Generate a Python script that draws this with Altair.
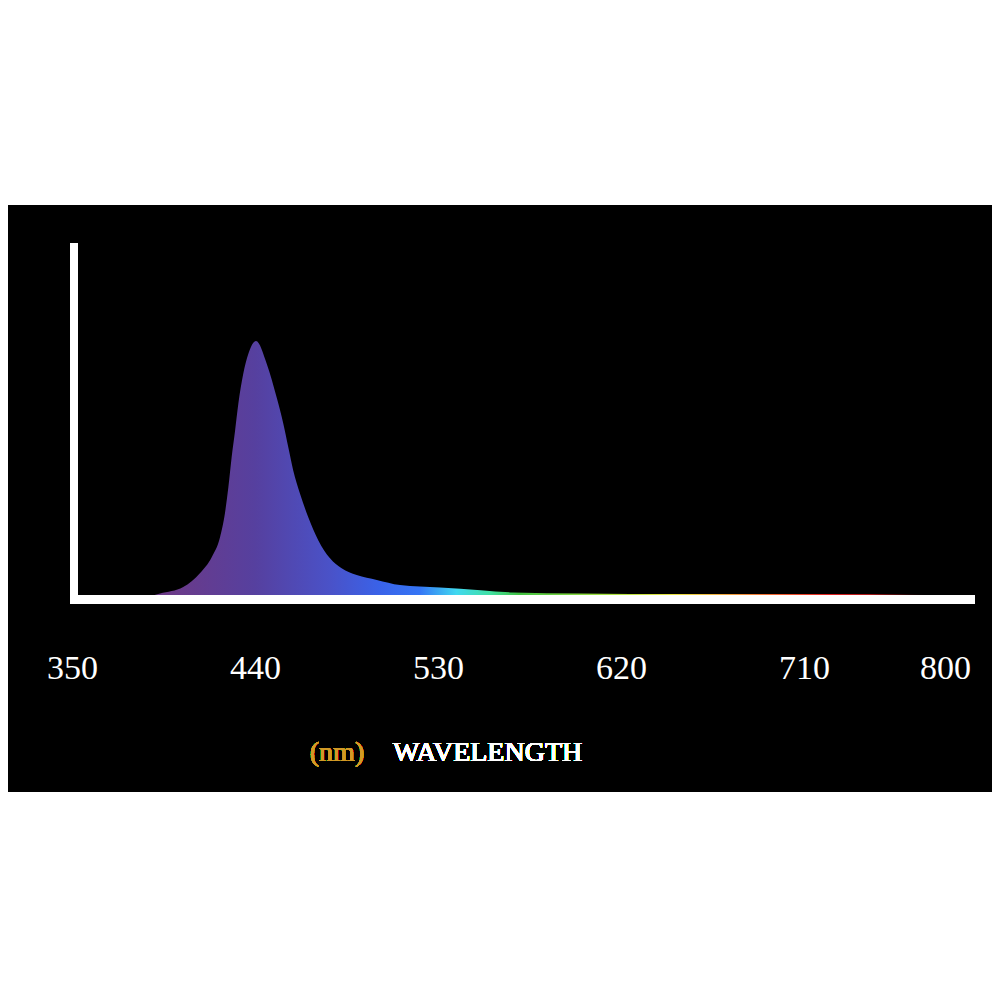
import altair as alt
import pandas as pd

# Spectrum (relative intensity, peak = 100)
wavelength = [350, 388, 393.3, 404.7, 413.0, 418.7, 422.8, 425.2, 426.9, 428.5, 430.2,
              431.8, 434.2, 436.7, 440.5, 445.8, 450.7, 453.9, 456.4, 458.8, 462.1,
              466.2, 471.1, 476.9, 482.6, 490.0, 499.9, 511.3, 531, 551, 567, 600,
              649, 742, 757, 772, 790, 794, 800]
intensity = [0, 0, 1.0, 3.5, 9.0, 15.2, 23.0, 32.4, 42.6, 54.3, 64.8,
             75.4, 87.1, 94.9, 100, 91.0, 77.7, 67.6, 58.2, 49.2, 40.2,
             30.9, 21.9, 14.8, 10.9, 8.2, 6.3, 4.3, 3.3, 2.3, 1.4, 1.0,
             0.8, 0.8, 0.6, 0.4, 0.2, 0, 0]

tick_values = [350, 440, 530, 620, 710, 800]

# gradient colour stops along the wavelength axis
stop_nm = [350, 398, 440, 477, 501, 521, 539, 556, 570, 610, 646, 667, 697, 723, 757, 772, 800]
stop_col = ["#6b3a88", "#6b3a88", "#56409f", "#4a52c8", "#3a62e8", "#3575f5", "#40d8f0",
            "#40e0a0", "#40c040", "#a0e040", "#e8e040", "#f0b040", "#f06030", "#e02020",
            "#801010", "#000000", "#000000"]

df = pd.DataFrame({"wavelength": wavelength, "intensity": intensity})

x_min, x_max = 350, 800
stops = [alt.GradientStop(color=c, offset=(n - x_min) / (x_max - x_min))
         for n, c in zip(stop_nm, stop_col)]

W, H = 984, 970

backdrop = alt.Chart(df).mark_rect(color="#000000").encode(
    x=alt.value(0), x2=alt.value(W), y=alt.value(197), y2=alt.value(784)
)

area = alt.Chart(df).mark_area(
    interpolate="monotone",
    color=alt.Gradient(gradient="linear", stops=stops, x1=0, x2=1, y1=0, y2=0),
).encode(
    x=alt.X("wavelength:Q",
            scale=alt.Scale(domain=[x_min, x_max], range=[64, 979], nice=False, zero=False),
            axis=alt.Axis(values=tick_values, grid=False, domain=False, ticks=False,
                          title=None, format="d", labelColor="#ffffff",
                          labelFont="Liberation Serif", labelFontSize=34,
                          labelPadding=0, labelOverlap=False, labelFlush=False, offset=-327,
                          labelOffset={"condition": {"test": "datum.value === 800", "value": -42},
                                       "value": 0},
                          zindex=1)),
    y=alt.Y("intensity:Q", scale=alt.Scale(domain=[0, 100], range=[588, 333], nice=False),
            axis=None),
)

hline = alt.Chart(df).mark_rule(color="#ffffff", strokeWidth=8).encode(
    x=alt.value(62), x2=alt.value(967), y=alt.value(591.5)
)
vline = alt.Chart(df).mark_rule(color="#ffffff", strokeWidth=8).encode(
    x=alt.value(66), y=alt.value(235), y2=alt.value(595.5)
)

unit = alt.Chart(df).mark_text(text="(nm)", color="#d39a26", font="Liberation Serif",
                               fontSize=28, align="center", baseline="alphabetic").encode(
    x=alt.value(329), y=alt.value(753)
)
title = alt.Chart(df).mark_text(text="WAVELENGTH", color="#ffffff", font="Liberation Serif",
                                fontSize=28, align="left", baseline="alphabetic").encode(
    x=alt.value(385), y=alt.value(753)
)

chart = alt.layer(backdrop, area, hline, vline, unit, title).properties(
    width=W, height=H, padding=0, background="#ffffff",
    autosize=alt.AutoSizeParams(type="none"),
).configure_view(strokeWidth=0)

chart.save("out.html", embed_options={"renderer": "svg", "actions": False})
